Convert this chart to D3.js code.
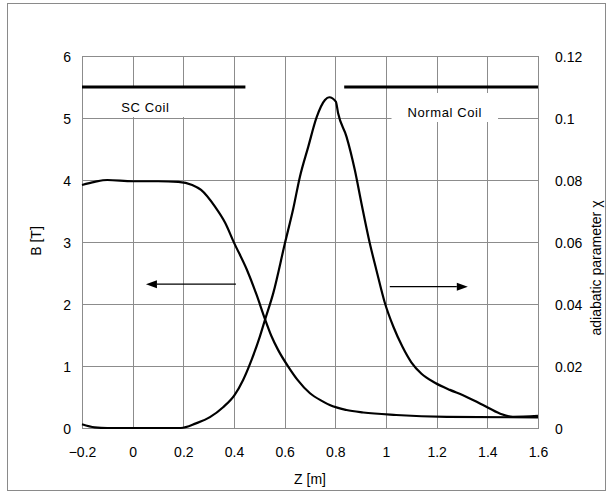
<!DOCTYPE html>
<html><head><meta charset="utf-8">
<script src="https://cdn.jsdelivr.net/npm/d3@7"></script>
<style>
html,body{margin:0;padding:0;background:#fff;}
svg{display:block;font-family:"Liberation Sans",Arial,sans-serif;}
</style></head>
<body>
<svg id="chart" width="613" height="501"></svg>
<script>
// ---- data ----
const zB =   [-0.2,-0.15,-0.1,0,0.1,0.18,0.235,0.27,0.325,0.365,0.4,0.45,0.489,0.522,0.548,0.574,0.614,0.65,0.7,0.75,0.778,0.844,0.91,1.04,1.24,1.6];
const bVals = [3.92,3.97,4.0,3.98,3.98,3.97,3.92,3.84,3.57,3.31,2.99,2.56,2.15,1.76,1.48,1.26,0.99,0.78,0.56,0.43,0.37,0.29,0.25,0.21,0.18,0.17];
const zChi = [-0.2,-0.15,-0.1,0,0.1,0.19,0.25,0.305,0.357,0.402,0.436,0.469,0.502,0.522,0.555,0.601,0.634,0.66,0.693,0.726,0.759,0.776,0.802,0.811,0.844,0.877,0.903,0.936,0.962,0.995,1.03,1.065,1.1,1.14,1.193,1.252,1.304,1.383,1.449,1.501,1.6];
const chiVals = [0.0012,0.0002,0,0,0,0,0.0015,0.0035,0.0067,0.0106,0.0155,0.0219,0.0295,0.0348,0.0435,0.0596,0.0708,0.081,0.0907,0.1002,0.1058,0.1067,0.1053,0.1015,0.094,0.0832,0.0725,0.0596,0.051,0.0405,0.0325,0.0262,0.0212,0.0175,0.0146,0.0123,0.0106,0.0074,0.0047,0.0036,0.0039];
const xTicks = [-0.2,0,0.2,0.4,0.6,0.8,1,1.2,1.4,1.6];
const yLeftTicks = [0,1,2,3,4,5,6];
const yRightTicks = [0,0.02,0.04,0.06,0.08,0.1,0.12];
const coils = [{name:"SC Coil", z0:-0.2, z1:0.445, labelZ:0.05}, {name:"Normal Coil", z0:0.835, z1:1.6, labelZ:1.232}];
const coilLevel = 5.5;
const arrows = [{from:0.4075, to:0.0525, b:2.32}, {from:1.015, to:1.323, b:2.28}];

// ---- layout ----
const svg = d3.select("#chart");
const L = 82, R = 538, T = 56, B = 428;
const x = d3.scaleLinear().domain([-0.2,1.6]).range([L,R]);
const yL = d3.scaleLinear().domain([0,6]).range([B,T]);
const yR = d3.scaleLinear().domain([0,0.12]).range([B,T]);
const FS = 14;

// outer frame
svg.append("rect").attr("x",7.5).attr("y",3.5).attr("width",598).attr("height",487)
  .attr("fill","none").attr("stroke","#8a8a8a").attr("stroke-width",1);

// gridlines
const grid = svg.append("g").attr("stroke","#8c8c8c").attr("stroke-width",1).attr("shape-rendering","crispEdges");
xTicks.forEach(t=>grid.append("line").attr("x1",Math.round(x(t))+0.5).attr("x2",Math.round(x(t))+0.5).attr("y1",T).attr("y2",B));
yLeftTicks.forEach(t=>grid.append("line").attr("x1",L).attr("x2",R).attr("y1",Math.round(yL(t))+0.5).attr("y2",Math.round(yL(t))+0.5));

// axes (labels only)
const fmt = d => String(d).replace("-", "\u2212");
const ax = svg.append("g").attr("transform",`translate(0,${B})`)
  .call(d3.axisBottom(x).tickValues(xTicks).tickSize(0).tickPadding(19).tickFormat(fmt));
const ayl = svg.append("g").attr("transform",`translate(${L},0)`)
  .call(d3.axisLeft(yL).tickValues(yLeftTicks).tickSize(0).tickPadding(11).tickFormat(fmt));
const ayr = svg.append("g").attr("transform",`translate(${R},0)`)
  .call(d3.axisRight(yR).tickValues(yRightTicks).tickSize(0).tickPadding(17).tickFormat(fmt));
[ax,ayl,ayr].forEach(g=>{g.select(".domain").remove();
  g.selectAll("text").attr("font-size",FS).attr("fill","#000").attr("font-family","Liberation Sans, Arial, sans-serif");});
ayl.selectAll("text").attr("dy","0.4em");
ayr.selectAll("text").attr("dy","0.4em");

// axis titles
svg.append("text").attr("x",310).attr("y",484).attr("text-anchor","middle").attr("font-size",FS).text("Z [m]");
svg.append("text").attr("transform","translate(41,241) rotate(-90)").attr("text-anchor","middle").attr("font-size",FS).text("B [T]");
svg.append("text").attr("transform","translate(601,268) rotate(-90)").attr("text-anchor","middle").attr("font-size",FS).text("adiabatic parameter χ");

// coil label boxes and text
coils.forEach(c=>{
  const g = svg.append("g");
  const t = g.append("text").attr("x",x(c.labelZ)).attr("y",yL(coilLevel)+ (c.name==="SC Coil"?25:30))
    .attr("text-anchor","middle").attr("font-size",13).attr("letter-spacing",0.6).text(c.name);
  const bb = t.node().getBBox();
  g.insert("rect","text").attr("x",bb.x-16).attr("y",bb.y-12).attr("width",bb.width+32).attr("height",bb.height+14).attr("fill","#fff");
});

// plot border
svg.append("rect").attr("x",L+0.5).attr("y",T+0.5).attr("width",R-L).attr("height",B-T)
  .attr("fill","none").attr("stroke","#8c8c8c").attr("stroke-width",1).attr("shape-rendering","crispEdges");

// coil bars
coils.forEach(c=>{
  svg.append("line").attr("x1",x(c.z0)).attr("x2",x(c.z1)).attr("y1",yL(coilLevel)).attr("y2",yL(coilLevel))
    .attr("stroke","#000").attr("stroke-width",3);
});

// curves
const lineB = d3.line().x((d,i)=>x(zB[i])).y(d=>yL(d)).curve(d3.curveMonotoneX);
const lineC = d3.line().x((d,i)=>x(zChi[i])).y(d=>yR(d)).curve(d3.curveMonotoneX);
svg.append("path").attr("d",lineB(bVals)).attr("fill","none").attr("stroke","#000").attr("stroke-width",2.2).attr("stroke-linejoin","round");
svg.append("path").attr("d",lineC(chiVals)).attr("fill","none").attr("stroke","#000").attr("stroke-width",2.2).attr("stroke-linejoin","round");

// arrows
arrows.forEach(a=>{
  const x0=x(a.from), x1=x(a.to), yy=yL(a.b), dir = Math.sign(x1-x0), hl=11, hw=4;
  svg.append("line").attr("x1",x0).attr("x2",x1-dir*hl).attr("y1",yy).attr("y2",yy).attr("stroke","#000").attr("stroke-width",1.3);
  svg.append("path").attr("d",`M${x1},${yy}L${x1-dir*hl},${yy-hw}L${x1-dir*hl},${yy+hw}Z`).attr("fill","#000");
});
</script>
</body></html>
